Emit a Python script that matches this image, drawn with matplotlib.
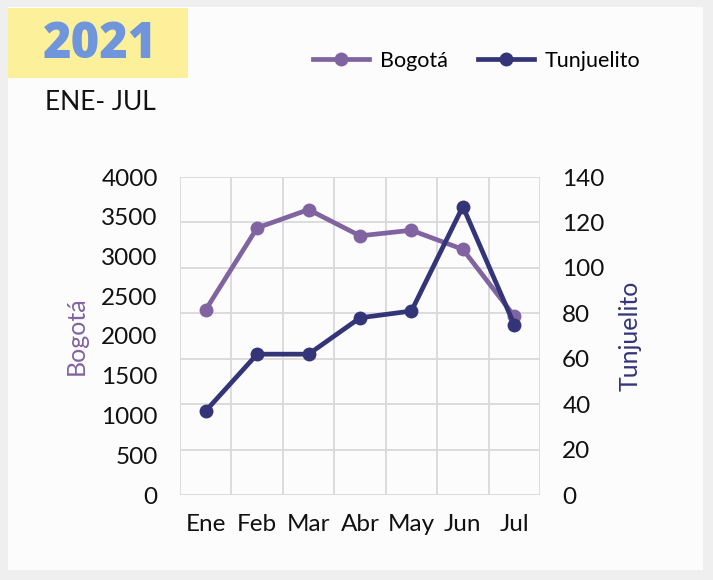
import matplotlib.pyplot as plt
from matplotlib.patches import Rectangle

# data
meses = ["Ene", "Feb", "Mar", "Abr", "May", "Jun", "Jul"]
bogota = [2330, 3360, 3590, 3260, 3330, 3090, 2250]
tunjuelito = [37, 62, 62, 78, 81, 127, 75]

morado = "#8064A2"
azul = "#343579"

plt.rcParams['font.family'] = ['Lato', 'DejaVu Sans']

fig = plt.figure(figsize=(7.13, 5.8), dpi=100)
fig.patch.set_facecolor("#EFEFEF")

# white card and the yellow title box
fig.patches.append(Rectangle((8 / 713, 10 / 580), 695 / 713, 563 / 580,
                             transform=fig.transFigure, facecolor="#FCFCFC",
                             edgecolor="none", zorder=-2))
fig.patches.append(Rectangle((8 / 713, 1 - 78 / 580), 180 / 713, 70 / 580,
                             transform=fig.transFigure, facecolor="#FCF09A",
                             edgecolor="none", zorder=-1))
fig.text(100 / 713, 1 - 45 / 580, "2021", fontsize=35, fontweight="heavy",
         color="#6F95DC", ha="center", va="center", family="Open Sans")
fig.text(100 / 713, 1 - 102 / 580, "ENE- JUL", fontsize=19, color="#111111",
         ha="center", va="center")

ax = fig.add_axes([180 / 713, 1 - 495 / 580, 360 / 713, 318 / 580])
ax.set_facecolor("none")
ax2 = ax.twinx()
ax2.set_facecolor("none")

x = range(len(meses))
l1, = ax.plot(x, bogota, color=morado, lw=3.4, marker="o", ms=9, label="Bogotá", zorder=3)
l2, = ax2.plot(x, tunjuelito, color=azul, lw=3.4, marker="o", ms=9, label="Tunjuelito", zorder=3)

ax.set_xlim(-0.5, 6.5)
ax.set_ylim(0, 4000)
ax.set_yticks(range(0, 4001, 500))
ax2.set_ylim(0, 140)
ax2.set_yticks(range(0, 141, 20))
ax.set_xticks(list(x))
ax.set_xticklabels(meses)

# grid follows category borders and the right axis, drawn under both lines
for b in range(8):
    ax.axvline(b - 0.5, color="#D9D9D9", lw=1.3, zorder=0)
ax.hlines(ax2.get_yticks(), -0.5, 6.5, transform=ax2.transData,
          color="#D9D9D9", lw=1.3, zorder=0)

for a in (ax, ax2):
    for s in a.spines.values():
        s.set_visible(False)
    a.tick_params(length=0, labelsize=17.5, colors="#111111")
ax.tick_params(axis="y", pad=16)
ax2.tick_params(axis="y", pad=16)
ax.tick_params(axis="x", pad=14)

ax.set_ylabel("Bogotá", color=morado, fontsize=18, labelpad=10)
ax2.set_ylabel("Tunjuelito", color=azul, fontsize=18, labelpad=10)

fig.legend(handles=[l1, l2], loc="center", bbox_to_anchor=(477 / 713, 1 - 61 / 580),
           ncol=2, frameon=False, fontsize=15.5, handlelength=2.6, columnspacing=1.4,
           handletextpad=0.5)

fig.savefig("out.png", dpi=100, facecolor=fig.get_facecolor())
